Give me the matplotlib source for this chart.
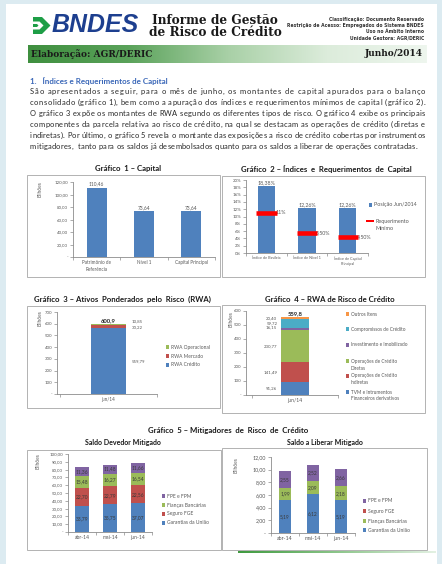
import numpy as np
import matplotlib
matplotlib.use('Agg')
import matplotlib.pyplot as plt
from matplotlib.patches import Rectangle, Polygon
from matplotlib.colors import LinearSegmentedColormap
from matplotlib.ticker import FuncFormatter, MultipleLocator

# ---- data ----
cap_cats = ['Patrimônio de\nReferência', 'Nível 1', 'Capital Principal']
cap_vals = [110.46, 73.64, 73.64]

idx_cats = ['Índice de Basileia', 'Índice de Nível 1', 'Índice de Capital\nPrincipal']
idx_vals = [18.38, 12.26, 12.26]
idx_req = [11.0, 5.5, 4.5]
idx_req_labels = ['11%', '5,50%', '4,50%']

rwa_month = ['jun/14']
rwa_names = ['RWA Crédito', 'RWA Mercado', 'RWA Operacional']
rwa_vals = [559.79, 30.22, 10.85]

crd_month = ['jun/14']
crd_names = ['TVM e Intrumentos\nFinanceiros derivativos', 'Operações de Crédito\nIndiretas',
             'Operações de Crédito\nDiretas', 'Investimento e Imobilizado',
             'Compromissos de Crédito', 'Outros Itens']
crd_vals = [91.26, 141.49, 230.77, 16.15, 59.72, 20.40]

mit_months = ['abr-14', 'mai-14', 'jun-14']
dev_names = ['Garantias da União', 'Seguro FGE', 'Fianças Bancárias', 'FPE e FPM']
dev_vals = [[33.79, 35.75, 37.07], [22.70, 22.79, 22.56], [15.48, 16.27, 16.54], [11.36, 11.48, 11.66]]
lib_names = ['Garantias da União', 'Fianças Bancárias', 'Seguro FGE', 'FPE e FPM']
lib_vals = [[5.19, 6.12, 5.19], [1.99, 2.09, 2.18], [0, 0, 0], [2.55, 2.52, 2.66]]

paragraph = [
    'São apresentados a seguir, para o mês de junho, os montantes de capital apurados para o balanço',
    'consolidado (gráfico 1), bem como a apuração dos índices e requerimentos mínimos de capital (gráfico 2).',
    'O gráfico 3 expõe os montantes de RWA segundo os diferentes tipos de risco. O gráfico 4 exibe os principais',
    'componentes da parcela relativa ao risco de crédito, na qual se destacam as operações de crédito (diretas e',
    'indiretas). Por último, o gráfico 5 revela o montante das exposições a risco de crédito cobertas por instrumentos',
    'mitigadores,  tanto para os saldos já desembolsados quanto para os saldos a liberar de operações contratadas.',
]
header_info = ['Classificação: Documento Reservado', 'Restrição de Acesso: Empregados do Sistema BNDES',
               'Uso no Âmbito Interno', 'Unidade Gestora: AGR/DERIC']

BLUE, RED, GREEN, PURPLE, TEAL, ORANGE = '#4F81BD', '#C0504D', '#9BBB59', '#8064A2', '#4BACC6', '#F79646'
GRAY = '#595959'
SANS = ['Lato', 'DejaVu Sans']
plt.rcParams['font.family'] = SANS

W, H = 442, 564
fig = plt.figure(figsize=(W / 100, H / 100), dpi=100, facecolor='#dcebf1')
renderer = fig.canvas.get_renderer()


def px(x, y):
    return x / W, 1 - y / H


def T(x, y, s, **kw):
    return fig.text(x / W, 1 - y / H, s, **kw)


def rect(x0, y0, x1, y1, **kw):
    r = Rectangle((x0 / W, 1 - y1 / H), (x1 - x0) / W, (y1 - y0) / H, transform=fig.transFigure, **kw)
    fig.patches.append(r)
    return r


def fit(t, width):
    w = t.get_window_extent(renderer).width
    t.set_fontsize(t.get_fontsize() * width / w)


def gradient(x0, y0, x1, y1, colors):
    gax = fig.add_axes([x0 / W, 1 - y1 / H, (x1 - x0) / W, (y1 - y0) / H])
    cmap = LinearSegmentedColormap.from_list('g', colors)
    gax.imshow(np.linspace(0, 1, 256)[None, :], aspect='auto', cmap=cmap)
    gax.axis('off')
    return gax


comma = lambda v, d=2: f'{v:.{d}f}'.replace('.', ',')
fmt2 = FuncFormatter(lambda v, p: '-' if abs(v) < 1e-9 else comma(v))
fmt0 = FuncFormatter(lambda v, p: '-' if abs(v) < 1e-9 else f'{v:.0f}')
fmtp = FuncFormatter(lambda v, p: f'{v:.0f}%')

# ---- page ----
rect(6, 4, 437, 600, fc='white', ec='none', zorder=-10)

# logo
fig.patches.append(Polygon([px(33, 17), px(42, 17), px(50.5, 25.5), px(42, 34), px(33, 34)],
                           closed=True, transform=fig.transFigure, fc='#1e9e46', ec='none'))
fig.patches.append(Polygon([px(33, 21.5), px(39.5, 21.5), px(43.5, 25.5), px(39.5, 29.5), px(33, 29.5)],
                           closed=True, transform=fig.transFigure, fc='white', ec='none'))
fig.patches.append(Polygon([px(33, 24), px(37, 24), px(38.5, 25.5), px(37, 27), px(33, 27)],
                           closed=True, transform=fig.transFigure, fc='#1e9e46', ec='none'))
t = T(52, 25.5, 'BNDES', fontsize=18, fontweight='bold', fontstyle='italic', color='#1d3f8f',
      family=['Liberation Sans'], va='center')
fit(t, 87)

t = T(215, 20.5, 'Informe de Gestão', fontsize=9, fontweight='bold', family=['DejaVu Serif'],
      color='#1a1a1a', ha='center', va='center')
fit(t, 126)
t2 = T(215, 33, 'de Risco de Crédito', fontsize=t.get_fontsize(), fontweight='bold', family=['DejaVu Serif'],
       color='#1a1a1a', ha='center', va='center')

for i, s in enumerate(header_info):
    t = T(424, 19 + 6.2 * i, s, fontsize=3, fontweight='bold', family=['DejaVu Sans'], color='#333333',
          ha='right', va='center')
    if i == 1:
        fit(t, 134)
        hs = t.get_fontsize()
for txt in fig.texts[-4:]:
    txt.set_fontsize(hs)

gradient(28, 45, 427, 63, ['#3f8f3f', '#5aa25a', '#a8d0a6', '#dcecdb', '#eef6ee'])
T(31, 54, 'Elaboração: AGR/DERIC', fontsize=6.5, fontweight='bold', family=['DejaVu Serif'],
  color='#1a1a1a', va='center')
T(423, 54, 'Junho/2014', fontsize=6.5, fontweight='bold', family=['DejaVu Serif'],
  color='#1a1a1a', va='center', ha='right')

T(30, 81, '1.   Índices e Requerimentos de Capital', fontsize=5.8, fontweight='bold', color='#3a67b8',
  va='center')

# paragraph: letter-by-letter, with per-line tracking so every line (but the last) fills the column
body_size = 5.4
space_w = 0.26 * body_size * 100 / 72
char_w = {}
tracks = []
for k, line in enumerate(paragraph):
    y = 94 + 11 * k
    objs = []
    widths = []
    for ch in line:
        if ch == ' ':
            objs.append(None)
            widths.append(space_w)
            continue
        o = T(0, y, ch, fontsize=body_size, color='#262626', va='baseline')
        if ch not in char_w:
            char_w[ch] = o.get_window_extent(renderer).width
        objs.append(o)
        widths.append(char_w[ch])
    last = k == len(paragraph) - 1
    track = (425 - 30 - sum(widths)) / (len(line) - 1)
    if last:
        track = min(np.mean(tracks), (417 - 30 - sum(widths)) / (len(line) - 1))
    tracks.append(track)
    x = 30
    for o, w in zip(objs, widths):
        if o is not None:
            o.set_x(x / W)
        x += w + track


# ---- chart helpers ----
def add_ax(x0, y0, x1, y1):
    ax = fig.add_axes([x0 / W, 1 - y1 / H, (x1 - x0) / W, (y1 - y0) / H])
    ax.patch.set_visible(False)
    ax.spines[['top', 'right']].set_visible(False)
    ax.spines[['left', 'bottom']].set_color('#8c8c8c')
    ax.spines[['left', 'bottom']].set_linewidth(0.6)
    ax.tick_params(axis='y', length=2, width=0.5, color='#8c8c8c', labelsize=3.2, labelcolor=GRAY, pad=1.5)
    ax.tick_params(axis='x', which='major', length=2, width=0.5, color='#8c8c8c')
    ax.tick_params(axis='x', which='minor', length=0, pad=2.5, labelsize=3.3, labelcolor=GRAY)
    return ax


def categories(ax, labels, lo=-0.5, hi=None, size=3.3):
    n = len(labels)
    ax.set_xlim(lo, n - 0.5 if hi is None else hi)
    ax.set_xticks(np.arange(n + 1) - 0.5)
    ax.set_xticklabels([])
    ax.set_xticks(np.arange(n), minor=True)
    ax.set_xticklabels(labels, minor=True, fontsize=size, linespacing=1.5)


def frame(x0, y0, x1, y1):
    rect(x0, y0, x1, y1, fill=False, ec='#a6a6a6', lw=0.6)


def legend(x, ys, names, colors, size=3.6, step=7):
    for y, n, c in zip(ys, names, colors):
        rect(x, y - 1.6, x + 3.2, y + 1.6, fc=c, ec='none')
        for j, part in enumerate(n.split('\n')):
            T(x + 5, y + step * j, part, fontsize=size, color=GRAY, va='center')


def bilhoes(x, y):
    T(x, y, 'Bilhões', rotation=90, fontsize=3.5, color=GRAY, ha='center', va='center')


title_kw = dict(fontsize=5.6, fontweight='bold', color='#1a1a1a', ha='center', va='center')

# ---- Gráfico 1 ----
frame(27, 175, 220, 277)
T(128, 169, 'Gráfico  1 – Capital', **title_kw)
ax = add_ax(73, 182, 215, 257)
x = np.arange(len(cap_vals))
ax.bar(x, cap_vals, width=0.42, color=BLUE)
ax.set_ylim(0, 120)
ax.yaxis.set_major_locator(MultipleLocator(20))
ax.yaxis.set_major_formatter(fmt2)
categories(ax, cap_cats)
for i, v in zip(x, cap_vals):
    ax.text(i, v + 2, comma(v), ha='center', va='bottom', fontsize=3.5, color=GRAY)
bilhoes(40, 189)

# ---- Gráfico 2 ----
frame(222, 176, 425, 277)
T(326, 169, 'Gráfico  2 – Índices  e  Requerimentos  de  Capital', **title_kw)
ax = add_ax(246, 180, 368, 253)
x = np.arange(len(idx_vals))
ax.bar(x, idx_vals, width=0.43, color=BLUE)
ax.hlines(idx_req, x - 0.25, x + 0.25, color='#ff0000', lw=3.3, zorder=3)
ax.set_ylim(0, 20)
ax.yaxis.set_major_locator(MultipleLocator(2))
ax.yaxis.set_major_formatter(fmtp)
categories(ax, idx_cats, size=2.7)
for i, v, r, rl in zip(x, idx_vals, idx_req, idx_req_labels):
    ax.text(i, v + 0.3, comma(v) + '%', ha='center', va='bottom', fontsize=3.8, color=GRAY)
    ax.text(i + 0.22, r, rl, ha='left', va='center', fontsize=3.8, color=GRAY, zorder=2)
rect(369, 203.4, 372.2, 206.6, fc=BLUE, ec='none')
T(374, 205, 'Posição Jun/2014', fontsize=3.9, color=GRAY, va='center')
rect(366, 219.8, 374, 222.2, fc='#ff0000', ec='none')
T(376, 221, 'Requerimento', fontsize=3.9, color=GRAY, va='center')
T(376, 228, 'Mínimo', fontsize=3.9, color=GRAY, va='center')

# ---- Gráfico 3 ----
frame(27, 306, 220, 408)
T(122, 299, 'Gráfico  3 – Ativos  Ponderados  pelo  Risco  (RWA)', **title_kw)
ax = add_ax(57, 312, 157, 394)
rwa_colors = [BLUE, RED, GREEN]
bottom = 0
for k, (v, c) in enumerate(zip(rwa_vals, rwa_colors)):
    ax.bar(0, v, width=0.36, bottom=bottom, color=c)
    ax.text(0.24, bottom + v / 2 + (20 if k == 2 else -4 if k == 1 else 0), comma(v), ha='left', va='center',
            fontsize=3.2, color=GRAY)
    bottom += v
ax.text(0, bottom, comma(bottom, 1), ha='center', va='bottom', fontsize=4.2, fontweight='bold', color='#262626')
ax.set_ylim(0, 700)
ax.yaxis.set_major_locator(MultipleLocator(100))
ax.yaxis.set_major_formatter(fmt0)
categories(ax, rwa_month, lo=-0.53, hi=0.47)
bilhoes(40, 318)
legend(166, [347, 356, 365], rwa_names[::-1], rwa_colors[::-1], size=3.5)

# ---- Gráfico 4 ----
frame(222, 305, 425, 413)
T(330, 299, 'Gráfico  4 – RWA de Risco de Crédito', **title_kw)
ax = add_ax(246, 311, 338, 395)
crd_colors = [BLUE, RED, GREEN, PURPLE, TEAL, ORANGE]
label_shift = [0, 0, 0, 13, 4, 0]
bottom = 0
for v, c, s in zip(crd_vals, crd_colors, label_shift):
    ax.bar(0, v, width=0.33, bottom=bottom, color=c)
    ax.text(-0.21, bottom + v / 2 + s, comma(v), ha='right', va='center', fontsize=3.2, color=GRAY)
    bottom += v
ax.text(0, bottom + 3, comma(bottom, 1), ha='center', va='bottom', fontsize=4.2, fontweight='bold', color='#262626')
ax.set_ylim(0, 600)
ax.yaxis.set_major_locator(MultipleLocator(100))
ax.yaxis.set_major_formatter(fmt0)
categories(ax, crd_month, lo=-0.576, hi=0.424, size=3.6)
bilhoes(231, 319)
legend(346, [392, 376, 361, 345, 329, 314], crd_names, crd_colors, size=3.4)

# ---- Gráfico 5 ----
T(228, 430, 'Gráfico  5 – Mitigadores  de  Risco  de  Crédito', **title_kw)
T(123, 442, 'Saldo Devedor Mitigado', fontsize=5.0, fontweight='bold', color='#1a1a1a', ha='center', va='center')
T(325, 442, 'Saldo a Liberar Mitigado', fontsize=5.0, fontweight='bold', color='#1a1a1a', ha='center', va='center')

frame(27, 450, 221, 550)
ax = add_ax(68, 454, 152, 532)
dev_colors = [BLUE, RED, GREEN, PURPLE]
x = np.arange(len(mit_months))
bottom = np.zeros(len(mit_months))
for vals, c in zip(dev_vals, dev_colors):
    vals = np.array(vals)
    ax.bar(x, vals, width=0.5, bottom=bottom, color=c)
    for i in x:
        ax.text(i, bottom[i] + vals[i] / 2, comma(vals[i]), ha='center', va='center', fontsize=3.5, color='#3a3a3a')
    bottom += vals
ax.set_ylim(0, 100)
ax.yaxis.set_major_locator(MultipleLocator(10))
ax.yaxis.set_major_formatter(fmt2)
categories(ax, mit_months, size=3.6)
bilhoes(38, 461)
legend(162, [496, 505, 514, 523], dev_names[::-1], dev_colors[::-1], size=3.6)

frame(222, 448, 427, 550)
ax = add_ax(271, 457, 355, 533)
lib_colors = [BLUE, GREEN, RED, PURPLE]
bottom = np.zeros(len(mit_months))
for vals, c in zip(lib_vals, lib_colors):
    vals = np.array(vals, dtype=float)
    ax.bar(x, vals, width=0.42, bottom=bottom, color=c)
    for i in x:
        if vals[i] > 0:
            ax.text(i, bottom[i] + vals[i] / 2, comma(vals[i]), ha='center', va='center', fontsize=3.5,
                    color='#3a3a3a')
    bottom += vals
ax.set_ylim(0, 12)
ax.yaxis.set_major_locator(MultipleLocator(2))
ax.yaxis.set_major_formatter(fmt2)
ax.tick_params(axis='y', labelsize=3.8)
categories(ax, mit_months, size=3.8)
bilhoes(236, 465)
legend(363, [501, 511, 521, 530], lib_names[::-1], lib_colors[::-1], size=3.6)

gradient(238, 551.3, 436, 553, ['#3f9a3f', '#8cc58a', '#e3f1e3'])

fig.savefig('out.png', dpi=100, facecolor=fig.get_facecolor())
